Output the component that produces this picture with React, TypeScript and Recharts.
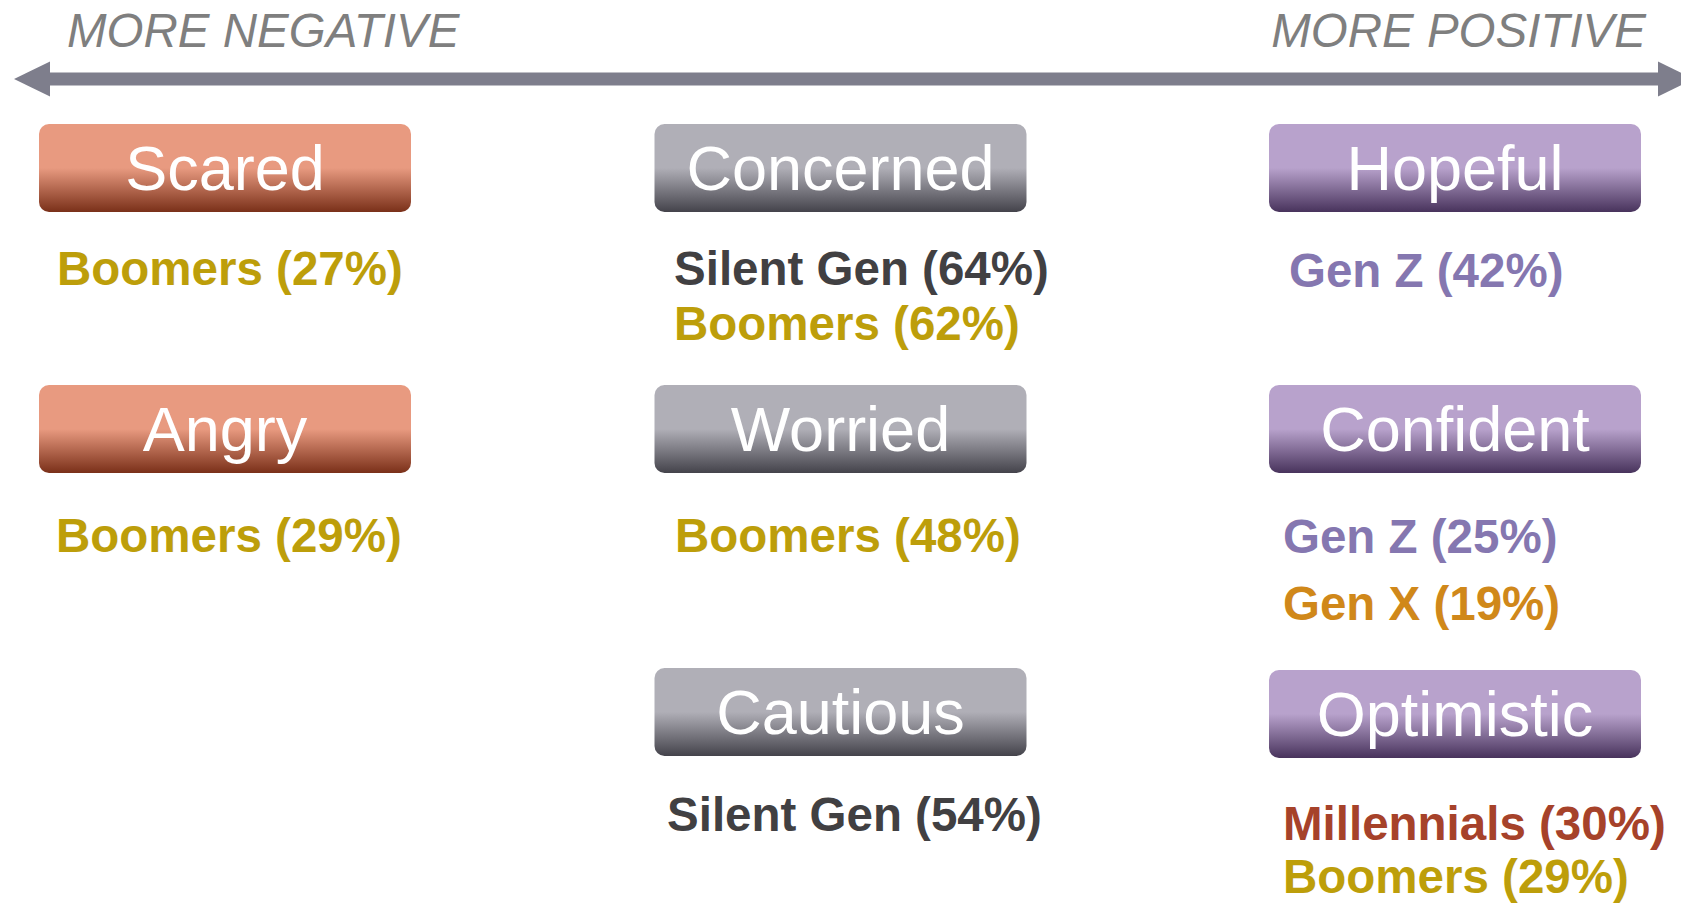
import React from 'react';
import { ScatterChart, Scatter, XAxis, YAxis } from 'recharts';

// ---------- data ----------
const axisLabels = ['MORE NEGATIVE', 'MORE POSITIVE'];

const emotions = ['Scared', 'Angry', 'Concerned', 'Worried', 'Cautious', 'Hopeful', 'Confident', 'Optimistic'];
const emotionTones = ['negative', 'negative', 'neutral', 'neutral', 'neutral', 'positive', 'positive', 'positive'];

const mentionEmotions = ['Scared', 'Angry', 'Concerned', 'Concerned', 'Worried', 'Cautious', 'Hopeful', 'Confident', 'Confident', 'Optimistic', 'Optimistic'];
const mentionGenerations = ['Boomers', 'Boomers', 'Silent Gen', 'Boomers', 'Boomers', 'Silent Gen', 'Gen Z', 'Gen Z', 'Gen X', 'Millennials', 'Boomers'];
const mentionShares = [27, 29, 64, 62, 48, 54, 42, 25, 19, 30, 29];

// ---------- styles ----------
const FONT = '"Liberation Sans", Arial, Helvetica, sans-serif';
const generationColors: Record<string, string> = {
  Boomers: '#BD9E0A',
  'Silent Gen': '#414042',
  'Gen Z': '#8577B0',
  'Gen X': '#D0881A',
  Millennials: '#A6422A',
};
const toneColors: Record<string, [string, string]> = {
  negative: ['#E89A80', '#7A3019'],
  neutral: ['#B0AFB7', '#44434B'],
  positive: ['#B8A2CC', '#48335C'],
};
const ARROW_COLOR = '#7E7E8C';
const AXIS_TEXT_COLOR = '#7F7F7F';

// ---------- layout (layout units = page pixels) ----------
const WIDTH = 1681;
const HEIGHT = 904;
const BOX_W = 372;
const BOX_H = 88;
const BOX_R = 10;
const boxCenter: Record<string, [number, number]> = {
  Scared: [225, 168],
  Angry: [225, 429],
  Concerned: [840.5, 168],
  Worried: [840.5, 429],
  Cautious: [840.5, 712],
  Hopeful: [1455, 168],
  Confident: [1455, 429],
  Optimistic: [1455, 714],
};
const mentionLayout: Record<string, { x: number; ys: number[] }> = {
  Scared: { x: 57, ys: [285] },
  Angry: { x: 56, ys: [552] },
  Concerned: { x: 674, ys: [285, 340] },
  Worried: { x: 675, ys: [552] },
  Cautious: { x: 667, ys: [831] },
  Hopeful: { x: 1289, ys: [287] },
  Confident: { x: 1283, ys: [553, 620] },
  Optimistic: { x: 1283, ys: [840, 893] },
};
const arrowLayout = { y: 79, left: 50, right: 1658, head: 36, halfHead: 17.5, shaft: 13 };
const axisLabelLayout = [
  { x: 67, y: 47, anchor: 'start' },
  { x: 1646, y: 47, anchor: 'end' },
];

// ---------- derived series ----------
const boxData = emotions.map((e, i) => ({
  x: boxCenter[e][0],
  y: boxCenter[e][1],
  label: e,
  tone: emotionTones[i],
}));

const mentionData = mentionEmotions.map((e, i) => {
  const k = mentionEmotions.slice(0, i).filter((m) => m === e).length;
  return {
    x: mentionLayout[e].x,
    y: mentionLayout[e].ys[k],
    text: `${mentionGenerations[i]} (${mentionShares[i]}%)`,
    color: generationColors[mentionGenerations[i]],
  };
});

const arrowData = [
  { x: arrowLayout.left, y: arrowLayout.y, dir: -1 },
  { x: arrowLayout.right, y: arrowLayout.y, dir: 1 },
];

const axisLabelData = axisLabels.map((t, i) => ({
  x: axisLabelLayout[i].x,
  y: axisLabelLayout[i].y,
  text: t,
  anchor: axisLabelLayout[i].anchor,
}));

// ---------- shapes ----------
const BoxShape = (props: any) => {
  const { cx, cy, payload } = props;
  const [top, bottom] = toneColors[payload.tone];
  const id = `grad-${payload.label}`;
  return (
    <g>
      <defs>
        <linearGradient id={id} x1="0" y1="0" x2="0" y2="1">
          <stop offset="0" stopColor={top} />
          <stop offset="0.5" stopColor={top} />
          <stop offset="1" stopColor={bottom} />
        </linearGradient>
      </defs>
      <rect
        x={cx - BOX_W / 2}
        y={cy - BOX_H / 2}
        width={BOX_W}
        height={BOX_H}
        rx={BOX_R}
        ry={BOX_R}
        fill={`url(#${id})`}
      />
      <text
        x={cx}
        y={cy + 21.5}
        textAnchor="middle"
        fill="#FFFFFF"
        fontFamily={FONT}
        fontSize={63}
      >
        {payload.label}
      </text>
    </g>
  );
};

const MentionShape = (props: any) => {
  const { cx, cy, payload } = props;
  return (
    <text x={cx} y={cy} fill={payload.color} fontFamily={FONT} fontWeight="bold" fontSize={47.5}>
      {payload.text}
    </text>
  );
};

const ArrowHeadShape = (props: any) => {
  const { cx, cy, payload } = props;
  const d = payload.dir;
  const { head, halfHead } = arrowLayout;
  const pts = `${cx},${cy - halfHead} ${cx + d * head},${cy} ${cx},${cy + halfHead}`;
  return <polygon points={pts} fill={ARROW_COLOR} />;
};

const AxisLabelShape = (props: any) => {
  const { cx, cy, payload } = props;
  return (
    <text
      x={cx}
      y={cy}
      textAnchor={payload.anchor}
      fill={AXIS_TEXT_COLOR}
      fontFamily={FONT}
      fontStyle="italic"
      fontSize={47.5}
    >
      {payload.text}
    </text>
  );
};

export default function App() {
  return (
    <div style={{ position: 'absolute', left: 0, top: 0, width: WIDTH, height: HEIGHT, background: '#FFFFFF' }}>
      <ScatterChart width={WIDTH} height={HEIGHT} margin={{ top: 0, right: 0, bottom: 0, left: 0 }}>
        <XAxis type="number" dataKey="x" domain={[0, WIDTH]} allowDataOverflow hide />
        <YAxis type="number" dataKey="y" domain={[0, HEIGHT]} allowDataOverflow reversed hide />
        <Scatter
          data={arrowData}
          isAnimationActive={false}
          line={{ stroke: ARROW_COLOR, strokeWidth: arrowLayout.shaft }}
          shape={ArrowHeadShape}
        />
        <Scatter data={axisLabelData} isAnimationActive={false} shape={AxisLabelShape} />
        <Scatter data={boxData} isAnimationActive={false} shape={BoxShape} />
        <Scatter data={mentionData} isAnimationActive={false} shape={MentionShape} />
      </ScatterChart>
    </div>
  );
}
